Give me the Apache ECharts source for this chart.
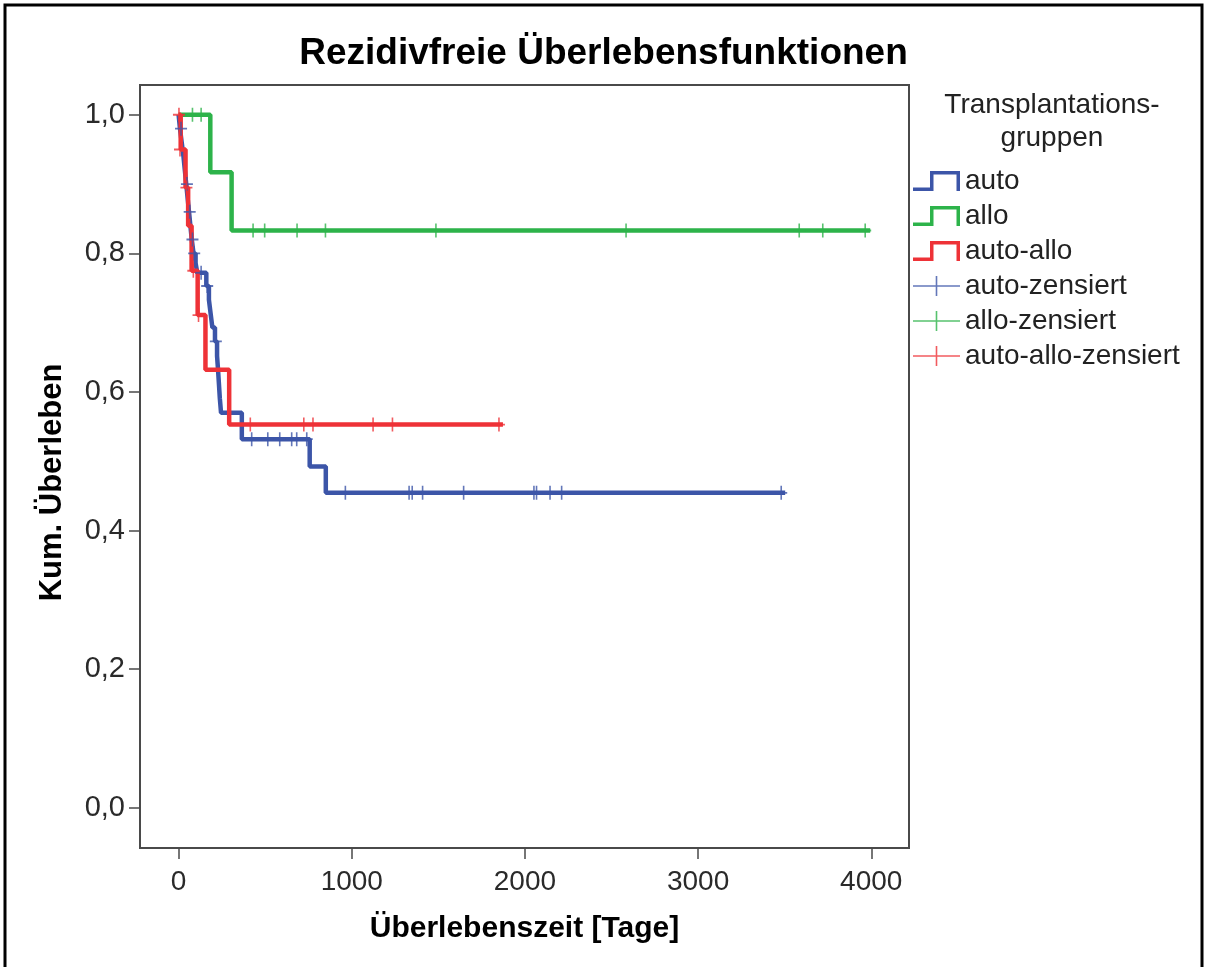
<!DOCTYPE html>
<html>
<head>
<meta charset="utf-8">
<script src="https://cdn.jsdelivr.net/npm/echarts@6/dist/echarts.min.js"></script>
<style>
html,body{margin:0;padding:0;background:#fff;}
#chart{width:1207px;height:967px;}
</style>
</head>
<body>
<div id="chart"></div>
<script>
// ---- data ----
const titleText = 'Rezidivfreie Überlebensfunktionen';
const xAxisTitle = 'Überlebenszeit [Tage]';
const yAxisTitle = 'Kum. Überleben';
const legendTitle = ['Transplantations-', 'gruppen'];
const seriesNames = ['auto', 'allo', 'auto-allo', 'auto-zensiert', 'allo-zensiert', 'auto-allo-zensiert'];
const xTickValues = [0, 1000, 2000, 3000, 4000];
const yTickValues = [0, 0.2, 0.4, 0.6, 0.8, 1.0];

// Kaplan-Meier steps [day, survival after event]
const autoSteps = [[0,1.0],[8,0.98],[18,0.96],[28,0.94],[36,0.92],[44,0.90],[52,0.88],[60,0.86],[68,0.84],[76,0.82],[86,0.80],[98,0.786],[108,0.772],[160,0.753],[175,0.733],[185,0.713],[195,0.693],[210,0.673],[222,0.652],[228,0.631],[233,0.611],[238,0.591],[245,0.570],[365,0.532],[757,0.4925],[850,0.4545],[3503,0.4545]];
const alloSteps = [[0,1.0],[183,0.917],[306,0.833],[3994,0.833]];
const autoAlloSteps = [[0,1.0],[12,0.95],[40,0.895],[55,0.84],[75,0.775],[110,0.711],[155,0.632],[292,0.553],[1873,0.553]];

// censored observations [day, survival]
const autoCensored = [[14,0.98],[48,0.90],[64,0.86],[80,0.82],[90,0.80],[130,0.772],[165,0.753],[215,0.673],[422,0.532],[515,0.532],[584,0.532],[653,0.532],[682,0.532],[740,0.532],[963,0.4545],[1331,0.4545],[1349,0.4545],[1409,0.4545],[1646,0.4545],[2052,0.4545],[2067,0.4545],[2145,0.4545],[2212,0.4545],[3480,0.4545]];
const alloCensored = [[80,1.0],[130,1.0],[430,0.833],[497,0.833],[684,0.833],[848,0.833],[1486,0.833],[2584,0.833],[3584,0.833],[3720,0.833],[3965,0.833]];
const autoAlloCensored = [[2,1.0],[8,0.95],[45,0.895],[85,0.775],[115,0.711],[414,0.553],[723,0.553],[776,0.553],[1123,0.553],[1235,0.553],[1850,0.553]];

const colors = ['#3C55A8', '#2DB34A', '#EE3237'];

// ---- chart ----
const stepIcon = 'path://M0,16.5H17V0H47V20H43.5V3.5H20.5V20H0Z';
const plusIcon = 'path://M0,9.2H22.7V0H24.3V9.2H47V10.8H24.3V20H22.7V10.8H0Z';
const censorSymbol = 'path://M5.2,0H6.8V5.2H12V6.8H6.8V12H5.2V6.8H0V5.2H5.2Z';

const chart = echarts.init(document.getElementById('chart'), null, {renderer: 'canvas'});
const FONT = '"Liberation Sans", Arial, sans-serif';
const AXIS_COLOR = '#4a4a4a';

function lineSeries(name, data, color) {
  return {
    name: name, type: 'line', step: 'end', data: data,
    showSymbol: false, symbol: 'none',
    lineStyle: {color: color, width: 4.5},
    itemStyle: {color: color},
    emphasis: {disabled: true}, animation: false, z: 3
  };
}
function censSeries(name, data, color) {
  return {
    name: name, type: 'scatter', data: data,
    symbol: censorSymbol, symbolSize: [12, 14],
    itemStyle: {color: color},
    emphasis: {disabled: true}, animation: false, z: 4
  };
}

const option = {
  backgroundColor: '#ffffff',
  animation: false,
  title: {
    text: titleText, left: 'center', top: 35, padding: [0, 0, 0, 22],
    textStyle: {fontFamily: FONT, fontSize: 37, fontWeight: 'bold', color: '#000'}
  },
  grid: {
    left: 140, right: 298, top: 85, bottom: 119,
    show: true, borderColor: AXIS_COLOR, borderWidth: 2, backgroundColor: 'transparent'
  },
  xAxis: {
    type: 'value', min: -223, max: 4218,
    name: xAxisTitle, nameLocation: 'middle', nameGap: 66,
    nameTextStyle: {fontFamily: FONT, fontSize: 30, fontWeight: 'bold', color: '#000'},
    axisLine: {show: true, onZero: false, lineStyle: {color: AXIS_COLOR, width: 2}},
    axisTick: {show: true, inside: false, length: 11, customValues: xTickValues, lineStyle: {color: AXIS_COLOR, width: 1.5}},
    axisLabel: {customValues: xTickValues, margin: 20, fontFamily: FONT, fontSize: 28, color: '#2a2a2a',
      formatter: v => String(v)},
    splitLine: {show: false}
  },
  yAxis: {
    type: 'value', min: -0.058, max: 1.043,
    name: yAxisTitle, nameLocation: 'middle', nameGap: 72, nameRotate: 90,
    nameTextStyle: {fontFamily: FONT, fontSize: 31, fontWeight: 'bold', color: '#000', padding: [0, 32, 0, 0]},
    axisLine: {show: true, onZero: false, lineStyle: {color: AXIS_COLOR, width: 2}},
    axisTick: {show: true, inside: false, length: 11, customValues: yTickValues, lineStyle: {color: AXIS_COLOR, width: 1.5}},
    axisLabel: {customValues: yTickValues, margin: 15, fontFamily: FONT, fontSize: 29, color: '#2a2a2a',
      formatter: v => v.toFixed(1).replace('.', ',')},
    splitLine: {show: false}
  },
  legend: {
    orient: 'vertical', left: 913, top: 167, padding: 0,
    itemWidth: 47, itemHeight: 20, itemGap: 7, symbolKeepAspect: false,
    selectedMode: false,
    itemStyle: {borderWidth: 0},
    textStyle: {fontFamily: FONT, fontSize: 28, color: '#222', lineHeight: 28, padding: [0, 0, 0, 0]},
    data: [
      {name: seriesNames[0], icon: stepIcon},
      {name: seriesNames[1], icon: stepIcon},
      {name: seriesNames[2], icon: stepIcon},
      {name: seriesNames[3], icon: plusIcon},
      {name: seriesNames[4], icon: plusIcon},
      {name: seriesNames[5], icon: plusIcon}
    ]
  },
  graphic: [
    {type: 'rect', shape: {x: 5, y: 5, width: 1197, height: 1000}, style: {fill: 'none', stroke: '#000', lineWidth: 3}, silent: true, z: 100},
    {type: 'text', x: 1052, y: 105, style: {text: legendTitle[0], fontFamily: FONT, fontSize: 28, fill: '#222', align: 'center', verticalAlign: 'middle'}},
    {type: 'text', x: 1052, y: 138, style: {text: legendTitle[1], fontFamily: FONT, fontSize: 28, fill: '#222', align: 'center', verticalAlign: 'middle'}}
  ],
  series: [
    lineSeries(seriesNames[0], autoSteps, colors[0]),
    lineSeries(seriesNames[1], alloSteps, colors[1]),
    lineSeries(seriesNames[2], autoAlloSteps, colors[2]),
    censSeries(seriesNames[3], autoCensored, colors[0]),
    censSeries(seriesNames[4], alloCensored, colors[1]),
    censSeries(seriesNames[5], autoAlloCensored, colors[2])
  ]
};
chart.setOption(option);
</script>
</body>
</html>
